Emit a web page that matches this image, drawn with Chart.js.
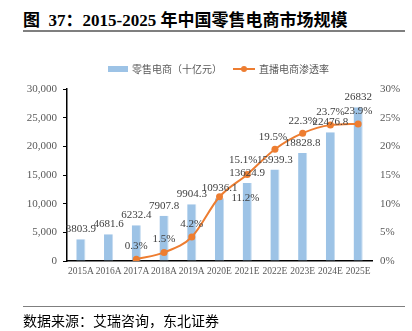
<!DOCTYPE html>
<html>
<head>
<meta charset="utf-8">
<script src="https://cdn.jsdelivr.net/npm/chart.js@4"></script>
<style>
  html, body { margin: 0; padding: 0; background: #fff; }
  #wrap { position: relative; width: 412px; height: 331px; overflow: hidden; }
  #title { position: absolute; left: 23px; top: 6px; font: bold 17px "Liberation Serif", "Noto Sans CJK SC", serif; color: #000; white-space: nowrap; }
  #title .cjk { font-family: "Noto Sans CJK SC", sans-serif; font-weight: bold; }
  #rule1 { position: absolute; left: 23px; top: 30px; width: 382px; height: 2px; background: #7f7f7f; }
  #rule2 { position: absolute; left: 23px; top: 306px; width: 382px; height: 1px; background: #7f7f7f; }
  #source { position: absolute; left: 23px; top: 310px; font: 14px "Noto Sans CJK SC", sans-serif; color: #000; white-space: nowrap; }
  #chart { position: absolute; left: 0; top: 0; }
</style>
</head>
<body>
<div id="wrap">
  <div id="title"><span class="cjk">图</span>&nbsp; 37<span class="cjk">：</span>2015-2025 <span class="cjk">年中国零售电商市场规模</span></div>
  <div id="rule1"></div>
  <canvas id="chart" width="412" height="331"></canvas>
  <div id="rule2"></div>
  <div id="source">数据来源：艾瑞咨询，东北证券</div>
</div>
<script>
(function () {
    const years = ['2015A', '2016A', '2017A', '2018A', '2019A', '2020E', '2021E', '2022E', '2023E', '2024E', '2025E']
    const retail = [3803.9, 4681.6, 6232.4, 7907.8, 9904.3, 10936.1, 13624.9, 15939.3, 18828.8, 22476.8, 26832]
    const liveRate = [null, null, 0.3, 1.5, 4.2, 11.2, 15.1, 19.5, 22.3, 23.7, 23.9]
    const barName = '零售电商（十亿元）'
    const lineName = '直播电商渗透率'

    const blue = '#9dc3e6'
    const orange = '#ed7d31'
    const labelFont = '11px "Liberation Serif", serif'

    // where each rate label sits relative to its point
    const rateOffsets = [null, null, [0, -13], [0, -13], [0, -13], [26, 1], [-4, -14], [-2, -12], [0, -12], [0, -13], [0, -13]]

    const labels = {
        id: 'labels',
        afterDatasetsDraw(chart) {
            const ctx = chart.ctx
            ctx.save()
            ctx.font = labelFont
            ctx.fillStyle = '#404040'
            ctx.textAlign = 'center'
            ctx.textBaseline = 'middle'
            chart.getDatasetMeta(0).data.forEach((bar, i) => {
                ctx.fillText(String(retail[i]), bar.x, bar.y - 10)
            })
            chart.getDatasetMeta(1).data.forEach((pt, i) => {
                if (liveRate[i] === null) return
                const o = rateOffsets[i]
                ctx.fillText(liveRate[i].toFixed(1) + '%', pt.x + o[0], pt.y + o[1])
            })

            // legend
            ctx.font = '10px "Noto Sans CJK SC", sans-serif'
            ctx.textAlign = 'left'
            ctx.fillStyle = blue
            ctx.fillRect(108, 66, 20, 6)
            ctx.fillStyle = '#595959'
            ctx.fillText(barName, 132, 69)
            ctx.strokeStyle = orange
            ctx.lineWidth = 2
            ctx.beginPath()
            ctx.moveTo(233, 69)
            ctx.lineTo(255, 69)
            ctx.stroke()
            ctx.fillStyle = orange
            ctx.beginPath()
            ctx.arc(244, 69, 3, 0, Math.PI * 2)
            ctx.fill()
            ctx.fillStyle = '#595959'
            ctx.fillText(lineName, 259, 69)
            ctx.restore()
        }
    }

    const data = {
        labels: years,
        datasets: [{
            type: 'bar',
            label: barName,
            data: retail,
            yAxisID: 'y',
            backgroundColor: blue,
            borderColor: '#c5dcf0',
            borderWidth: { right: 1 },
            borderSkipped: false,
            barPercentage: 0.33,
            categoryPercentage: 1,
            order: 2
        }, {
            type: 'line',
            label: lineName,
            data: liveRate,
            yAxisID: 'y1',
            borderColor: orange,
            backgroundColor: orange,
            borderWidth: 2,
            pointRadius: 3.5,
            pointBackgroundColor: orange,
            pointBorderWidth: 0,
            tension: 0.4,
            cubicInterpolationMode: 'monotone',
            order: 1
        }]
    }

    const tickFont = { family: '"Liberation Serif", serif', size: 11 }

    new Chart(document.getElementById('chart'), {
        data: data,
        plugins: [labels],
        options: {
            responsive: false,
            animation: false,
            layout: { padding: { top: 89, bottom: 50, left: 0, right: 0 } },
            plugins: {
                legend: { display: false },
                tooltip: { enabled: false }
            },
            scales: {
                x: {
                    grid: { display: false, drawTicks: false },
                    border: { display: true, color: '#000', width: 1.5 },
                    ticks: { font: { family: '"Liberation Serif", serif', size: 9.5 }, color: '#595959', padding: 5, maxRotation: 0, autoSkip: false },
                    afterFit(s) { s.height = 20 }
                },
                y: {
                    position: 'left',
                    min: 0,
                    max: 30000,
                    ticks: {
                        stepSize: 5000,
                        font: tickFont,
                        color: '#595959',
                        padding: 6,
                        callback: v => v.toLocaleString('en-US')
                    },
                    grid: { drawOnChartArea: false, tickLength: 4, color: '#000' },
                    border: { display: true, color: '#000', width: 1.5 },
                    afterFit(s) { s.width = 67 }
                },
                y1: {
                    position: 'right',
                    min: 0,
                    max: 30,
                    ticks: {
                        stepSize: 5,
                        font: tickFont,
                        color: '#595959',
                        padding: 8,
                        callback: v => v + '%'
                    },
                    grid: { display: false, drawTicks: false },
                    border: { display: false },
                    afterFit(s) { s.width = 40 }
                }
            }
        }
    })
})()
</script>
</body>
</html>
